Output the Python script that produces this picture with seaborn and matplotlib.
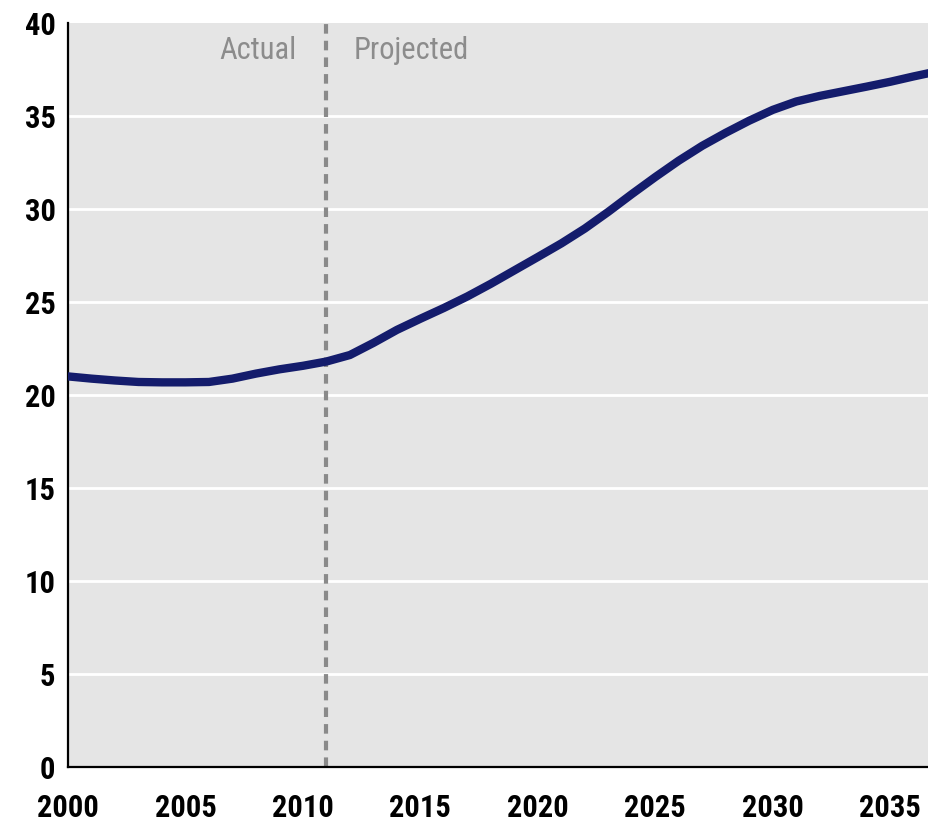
import matplotlib
matplotlib.use("Agg")
import matplotlib.pyplot as plt
import seaborn as sns
import pandas as pd
from matplotlib import font_manager

years = list(range(2000, 2038))
values = [21.0, 20.88, 20.78, 20.7, 20.68, 20.68, 20.7, 20.88, 21.15, 21.38,
          21.57, 21.8, 22.15, 22.8, 23.5, 24.1, 24.68, 25.3, 25.98, 26.7,
          27.42, 28.15, 28.95, 29.85, 30.8, 31.72, 32.6, 33.4, 34.1, 34.75,
          35.33, 35.78, 36.08, 36.33, 36.58, 36.84, 37.13, 37.4]
x_ticks = [2000, 2005, 2010, 2015, 2020, 2025, 2030, 2035]
y_ticks = [0, 5, 10, 15, 20, 25, 30, 35, 40]
split_year = 2011
label_actual = "Actual"
label_projected = "Projected"

df = pd.DataFrame({"year": years, "value": values})

sns.set_theme(style="white")
names = {f.name for f in font_manager.fontManager.ttflist}
fam = "DejaVu Sans"
narrow = False
for cand in ["Liberation Sans Narrow", "Roboto Condensed", "Open Sans Condensed",
             "DejaVu Sans Condensed", "Roboto"]:
    if cand in names:
        fam = cand
        narrow = cand != "Roboto"
        break
plt.rcParams["font.family"] = [fam, "DejaVu Sans"]
tick_size = 22 if narrow else 20
text_size = 22 if narrow else 18

fig = plt.figure(figsize=(9.29, 8.26), dpi=100)
ax = fig.add_axes([68 / 929, 1 - 767 / 826, (929 - 68) / 929, (767 - 23) / 826])
ax.set_facecolor("#e5e5e5")

for yv in y_ticks[1:-1]:
    ax.axhline(yv, color="white", lw=2, zorder=1)

ax.axvline(split_year, color="#8a8a8a", lw=3, linestyle=(0, (2.3, 1.7)), zorder=2)

sns.lineplot(data=df, x="year", y="value", ax=ax, color="#141c6c", lw=6, zorder=3)

ax.set_xlim(2000, 2036.65)
ax.set_ylim(0, 40)
ax.set_xticks(x_ticks)
ax.set_yticks(y_ticks)
ax.set_xlabel("")
ax.set_ylabel("")

for s in ["top", "right"]:
    ax.spines[s].set_visible(False)
for s in ["left", "bottom"]:
    ax.spines[s].set_visible(True)
    ax.spines[s].set_color("black")
    ax.spines[s].set_linewidth(1.6)

ax.tick_params(axis="both", direction="in", length=9.5, width=1.5, color="black",
               labelsize=tick_size, labelcolor="black")
ax.tick_params(axis="x", pad=19)
ax.tick_params(axis="y", pad=9)
for lab in ax.get_xticklabels() + ax.get_yticklabels():
    lab.set_fontweight("bold")

ax.text(split_year - 1.25, 38.5, label_actual, ha="right", va="center",
        color="#8c8c8c", fontsize=text_size)
ax.text(split_year + 1.15, 38.5, label_projected, ha="left", va="center",
        color="#8c8c8c", fontsize=text_size)

fig.savefig("out.png", dpi=100)
